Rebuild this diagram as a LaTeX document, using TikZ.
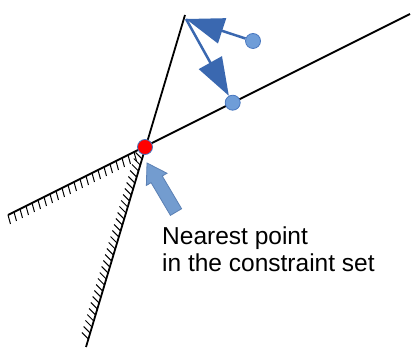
\documentclass[tikz,border=0pt]{standalone}
\usepackage{fontspec}
\setmainfont{Liberation Sans}
\usetikzlibrary{arrows.meta}
\definecolor{arrblue}{HTML}{3A68B0}
\definecolor{dotfill}{HTML}{6F9DD8}
\definecolor{dotline}{HTML}{4A78C0}
\definecolor{bigfill}{HTML}{739CCF}
\definecolor{bigline}{HTML}{5B80B4}
\begin{document}
\begin{tikzpicture}[x=1pt,y=1pt,
  bound/.style={black, line width=1.8pt},
  hatch/.style={black, line width=1pt},
  dot/.style={circle, draw=dotline, fill=dotfill, line width=0.8pt, minimum size=15pt, inner sep=0pt},
  reddot/.style={circle, draw=dotline, fill=red, line width=0.8pt, minimum size=15pt, inner sep=0pt},
  move/.style={arrblue, line width=2.5pt, -{Triangle[length=38pt,width=26pt]}},
  bigarrow/.style={fill=bigfill, draw=bigline, line width=0.8pt},
  lbl/.style={anchor=base west, inner sep=0pt, font=\fontsize{24.5}{27}\selectfont}]
\useasboundingbox (0,0) rectangle (411,347);
\coordinate (a1) at (8,132);
\coordinate (a2) at (410,333);
\coordinate (b1) at (185,332);
\coordinate (b2) at (86,0);
\coordinate (apex) at (186,328);
% hatches
\foreach \i in {0,...,21} {
  \draw[hatch] ({8+\i*6},{132+\i*3}) -- ++(2.5,-9);
}
\foreach \i in {0,...,30} {
  \draw[hatch] ({86+(188-\i*6)*0.2982},{188-\i*6}) -- ++(-6.5,6.5);
}
\draw[bound] (a1) -- (a2);
\draw[bound] (b1) -- (b2);
\node[dot] (d1) at (253,306) {};
\node[dot] (d2) at (232.7,244.3) {};
\draw[move] (d1) -- (apex);
\draw[move] (apex) -- (d2);
\node[reddot] (p) at (145,200) {};
% block arrow
\begin{scope}[shift={(147,184)}, rotate=120.6]
  \draw[bigarrow] (0,0) -- (-19,12) -- (-19,6.5) -- (-57,6.5) -- (-57,-6.5) -- (-19,-6.5) -- (-19,-12) -- cycle;
\end{scope}
\node[lbl] (t1) at (162,102) {Nearest point};
\node[lbl] (t2) at (162,75) {in the constraint set};
\end{tikzpicture}
\end{document}
